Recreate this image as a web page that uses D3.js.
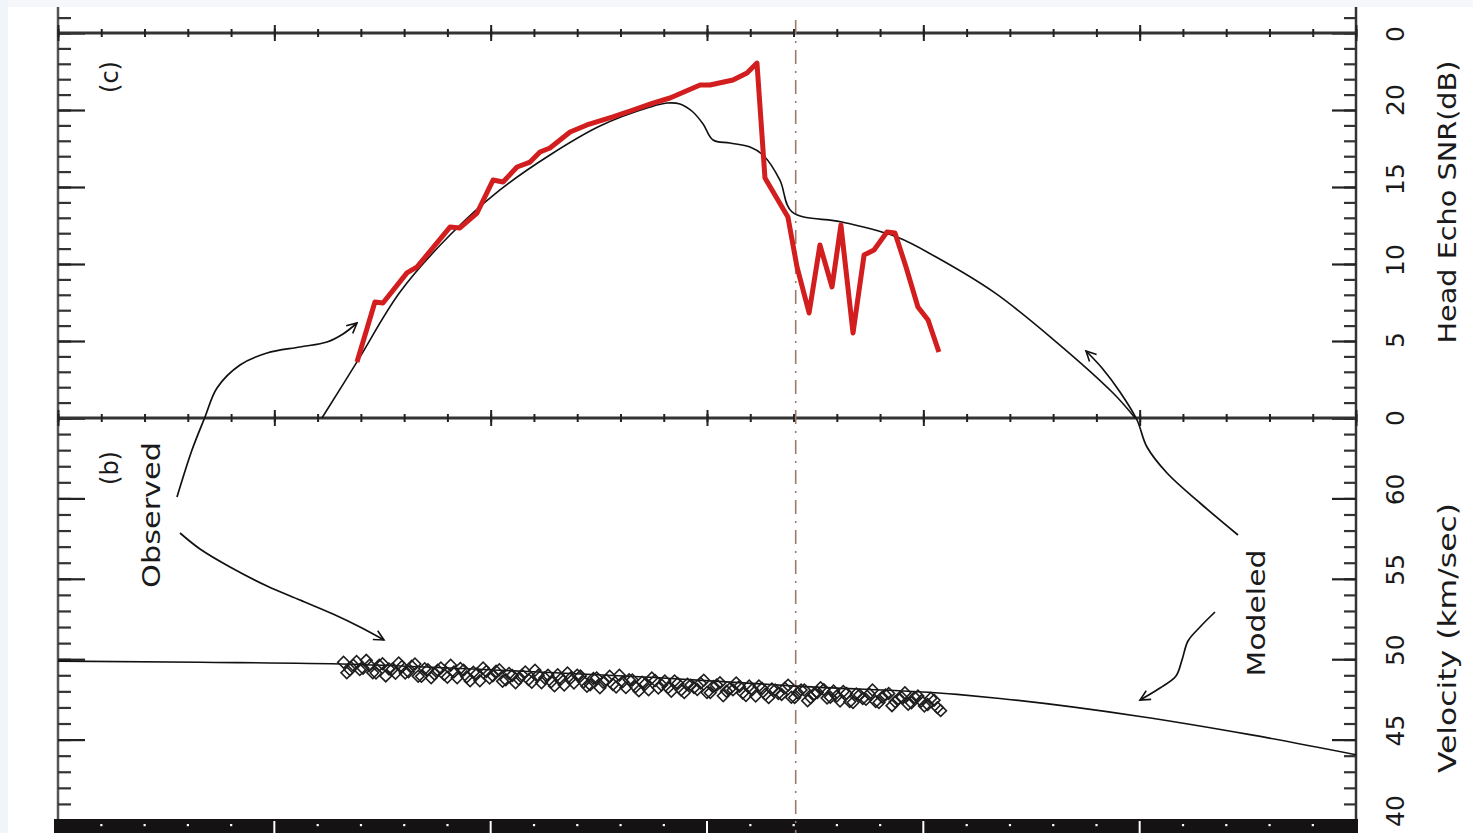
<!DOCTYPE html>
<html><head><meta charset="utf-8">
<script src="https://cdn.jsdelivr.net/npm/d3@7"></script>
<style>
body{margin:0;background:#fff}
svg{display:block}
text{font-family:"DejaVu Sans","Noto Sans",sans-serif;fill:#1a1a1a}
</style>
</head><body>
<svg id="chart" width="1473" height="833"></svg>
<script>
// ---------------- DATA ----------------
// shared (unlabelled) horizontal axis, in major-tick units
const xMajorTicks = [0, 1, 2, 3, 4, 5, 6];

// panel (c): Head Echo SNR (dB)
const snrTicks = [0, 5, 10, 15, 20, 25];
const snrTickLabels = ["0", "5", "10", "15", "20", "0"];

const modelSnrT = [1.22, 1.382, 1.581, 1.812, 2.043, 2.274, 2.505, 2.737, 2.815, 2.875, 2.935, 2.982, 3.028, 3.106, 3.199, 3.259, 3.337, 3.393, 3.624, 3.878, 4.059, 4.331, 4.604, 4.877, 4.979];
const modelSnr  = [0, 3.64, 8.18, 11.88, 14.81, 17.08, 18.96, 20.19, 20.45, 20.39, 19.87, 19.09, 18.05, 17.86, 17.60, 17.08, 15.45, 13.38, 12.73, 11.75, 10.45, 8.12, 5.06, 1.62, 0];

const obsSnrT = [1.382, 1.465, 1.502, 1.613, 1.660, 1.812, 1.858, 1.937, 2.011, 2.057, 2.122, 2.182, 2.228, 2.274, 2.367, 2.445, 2.565, 2.658, 2.750, 2.829, 2.968, 3.014, 3.120, 3.185, 3.231, 3.268, 3.374, 3.416, 3.472, 3.522, 3.578, 3.619, 3.675, 3.726, 3.772, 3.832, 3.869, 3.920, 3.975, 4.022, 4.072];
const obsSnr  = [3.64, 7.53, 7.47, 9.42, 9.81, 12.40, 12.34, 13.31, 15.45, 15.32, 16.30, 16.62, 17.27, 17.53, 18.57, 19.03, 19.55, 20.00, 20.45, 20.78, 21.62, 21.62, 21.95, 22.40, 23.05, 15.58, 13.05, 9.81, 6.82, 11.23, 8.51, 12.53, 5.52, 10.58, 10.91, 12.08, 12.01, 9.81, 7.21, 6.36, 4.29];

// panel (b): Velocity (km/sec)
const velTicks = [40, 45, 50, 55, 60];
const velTickLabels = ["40", "45", "50", "55", "60"];

const modelVelT = [0, 0.656, 1.350, 2.043, 2.737, 3.430, 4.156, 4.354, 5.002, 5.510, 6.0];
const modelVel  = [49.88, 49.81, 49.69, 49.31, 48.88, 48.31, 47.81, 47.56, 46.44, 45.31, 44.06];

const obsVelT = [1.32, 1.35, 1.38, 1.41, 1.44, 1.47, 1.50, 1.53, 1.56, 1.59, 1.62, 1.65, 1.68, 1.71, 1.74, 1.77, 1.80, 1.83, 1.86, 1.89, 1.92, 1.95, 1.98, 2.01, 2.04, 2.07, 2.10, 2.13, 2.16, 2.19, 2.22, 2.25, 2.28, 2.31, 2.34, 2.37, 2.40, 2.43, 2.46, 2.49, 2.52, 2.55, 2.58, 2.61, 2.64, 2.67, 2.70, 2.73, 2.76, 2.79, 2.82, 2.85, 2.88, 2.91, 2.94, 2.97, 3.00, 3.03, 3.06, 3.09, 3.12, 3.15, 3.18, 3.21, 3.24, 3.27, 3.30, 3.33, 3.36, 3.39, 3.42, 3.45, 3.48, 3.51, 3.54, 3.57, 3.60, 3.63, 3.66, 3.69, 3.72, 3.75, 3.78, 3.81, 3.84, 3.87, 3.90, 3.93, 3.96, 3.99, 4.02, 4.05, 4.08];
const obsVel  = [49.81, 49.34, 49.86, 49.44, 49.62, 49.14, 49.72, 49.39, 49.12, 49.55, 49.22, 49.70, 48.93, 49.35, 49.08, 49.45, 48.88, 49.21, 49.43, 48.91, 49.19, 48.66, 49.24, 48.97, 49.34, 48.72, 48.99, 48.77, 49.20, 48.57, 49.00, 48.83, 48.60, 49.03, 48.40, 48.83, 49.01, 48.58, 48.41, 48.84, 48.56, 48.94, 48.27, 48.59, 48.72, 48.29, 48.57, 48.10, 48.67, 48.40, 48.23, 48.65, 48.08, 48.45, 48.23, 48.51, 47.93, 48.31, 48.54, 48.01, 48.09, 48.31, 47.74, 48.12, 48.34, 47.82, 48.15, 47.87, 48.20, 47.63, 47.90, 48.08, 47.60, 47.93, 48.11, 47.63, 47.71, 47.99, 47.36, 47.84, 47.56, 47.84, 47.37, 47.64, 47.87, 47.35, 47.62, 47.20, 47.62, 47.40, 47.18, 47.45, 46.80];

// interleaved second set of observed velocity samples
const obsVel2T = [1.335, 1.365, 1.395, 1.425, 1.455, 1.485, 1.515, 1.545, 1.575, 1.605, 1.635, 1.665, 1.695, 1.725, 1.755, 1.785, 1.815, 1.845, 1.875, 1.905, 1.935, 1.965, 1.995, 2.025, 2.055, 2.085, 2.115, 2.145, 2.175, 2.205, 2.235, 2.265, 2.295, 2.325, 2.355, 2.385, 2.415, 2.445, 2.475, 2.505, 2.535, 2.565, 2.595, 2.625, 2.655, 2.685, 2.715, 2.745, 2.775, 2.805, 2.835, 2.865, 2.895, 2.925, 2.955, 2.985, 3.015, 3.045, 3.075, 3.105, 3.135, 3.165, 3.195, 3.225, 3.255, 3.285, 3.315, 3.345, 3.375, 3.405, 3.435, 3.465, 3.495, 3.525, 3.555, 3.585, 3.615, 3.645, 3.675, 3.705, 3.735, 3.765, 3.795, 3.825, 3.855, 3.885, 3.915, 3.945, 3.975, 4.005, 4.035, 4.065];
const obsVel2  = [49.15, 49.62, 49.35, 49.93, 49.15, 49.63, 48.96, 49.38, 49.76, 49.14, 49.56, 48.94, 49.41, 48.84, 49.32, 49.04, 49.62, 48.85, 49.32, 48.65, 49.07, 49.45, 48.83, 49.25, 48.63, 49.11, 48.53, 49.01, 48.73, 49.31, 48.54, 49.01, 48.34, 48.77, 49.14, 48.52, 48.95, 48.32, 48.80, 48.22, 48.70, 48.43, 49.00, 48.23, 48.71, 48.03, 48.46, 48.83, 48.21, 48.64, 48.01, 48.49, 47.92, 48.39, 48.12, 48.69, 47.92, 48.40, 47.72, 48.15, 48.53, 47.90, 48.33, 47.71, 48.18, 47.61, 48.08, 47.81, 48.39, 47.61, 48.09, 47.42, 47.84, 48.22, 47.59, 48.02, 47.40, 47.87, 47.30, 47.78, 47.50, 48.08, 47.31, 47.78, 47.11, 47.53, 47.91, 47.29, 47.71, 47.09, 47.57, 46.99];

const markerT = 3.41; // dash-dot reference line

// ---------------- DRAW ----------------
const svg = d3.select("#chart");
const X0 = 58, X1 = 1356;
const x = d3.scaleLinear().domain([0, 6]).range([X0, X1]);
const ySnr = d3.scaleLinear().domain([0, 25]).range([418, 33]);
const yVel = d3.scaleLinear().domain([40, 65]).range([820, 418]);

// background strips (scan border)
svg.append("rect").attr("x", 0).attr("y", 0).attr("width", 1473).attr("height", 833).attr("fill", "#fff");
svg.append("rect").attr("x", 0).attr("y", 0).attr("width", 1473).attr("height", 7).attr("fill", "#f6f7fb");
svg.append("rect").attr("x", 0).attr("y", 0).attr("width", 8).attr("height", 833).attr("fill", "#eff5f8");

// defs: arrow
const defs = svg.append("defs");
defs.append("marker").attr("id", "arr").attr("markerUnits", "userSpaceOnUse")
  .attr("viewBox", "-12 -7 14 14").attr("refX", 0).attr("refY", 0)
  .attr("markerWidth", 14).attr("markerHeight", 14).attr("orient", "auto")
  .append("path").attr("d", "M-10,-5 L0,0 L-10,5").attr("fill", "none")
  .attr("stroke", "#111").attr("stroke-width", 1.6);

// vertical axes lines (extend to the cropped edges)
svg.append("line").attr("x1", X0).attr("x2", X0).attr("y1", 7).attr("y2", 833).attr("stroke", "#555").attr("stroke-width", 2.5);
svg.append("line").attr("x1", X1).attr("x2", X1).attr("y1", 7).attr("y2", 833).attr("stroke", "#333").attr("stroke-width", 2.5);

const snrMinor = d3.range(0, 27, 1), velMinor = d3.range(40, 66, 1);
function vTicks(gx, scale, vals, dir, len, color) {
  const ax = (dir > 0 ? d3.axisRight(scale) : d3.axisLeft(scale)).tickValues(vals).tickSize(len).tickFormat("");
  const g = svg.append("g").attr("transform", `translate(${gx},0)`).call(ax);
  g.select(".domain").remove();
  g.selectAll(".tick line").attr("stroke", color).attr("stroke-width", 2.2);
}
vTicks(X0, ySnr, snrMinor, 1, 13, "#333");
vTicks(X0, ySnr, snrTicks, 1, 27, "#222");
vTicks(X0, yVel, velMinor, 1, 13, "#333");
vTicks(X0, yVel, velTicks.concat([65]), 1, 27, "#222");
vTicks(X1, ySnr, snrMinor, -1, 12, "#333");
vTicks(X1, ySnr, snrTicks, -1, 24, "#222");
vTicks(X1, yVel, velMinor, -1, 12, "#333");
vTicks(X1, yVel, velTicks.concat([65]), -1, 24, "#222");

// horizontal frame lines with ticks
const xMinor = x.ticks(24);
function hLine(yy) {
  svg.append("line").attr("x1", X0).attr("x2", X1).attr("y1", yy).attr("y2", yy).attr("stroke", "#333").attr("stroke-width", 3);
  const gMin = svg.append("g").attr("transform", `translate(0,${yy - 4})`).call(d3.axisBottom(x).tickValues(xMinor).tickSize(8).tickFormat(""));
  gMin.select(".domain").remove();
  gMin.selectAll(".tick line").attr("stroke", "#222").attr("stroke-width", 2);
  const gMaj = svg.append("g").attr("transform", `translate(0,${yy - 8})`).call(d3.axisBottom(x).tickValues(xMajorTicks).tickSize(16).tickFormat(""));
  gMaj.select(".domain").remove();
  gMaj.selectAll(".tick line").attr("stroke", "#222").attr("stroke-width", 2);
}
hLine(ySnr(25));
hLine(ySnr(0));

// bottom black band (thick bottom axis) with white ticks
svg.append("rect").attr("x", X0 - 4).attr("y", 819).attr("width", X1 - X0 + 6).attr("height", 14).attr("fill", "#141212");
svg.append("g").selectAll("rect").data(xMinor.filter(v => !xMajorTicks.includes(v))).join("rect")
  .attr("x", d => x(d) - 1).attr("y", 824).attr("width", 2.2).attr("height", 2.2).attr("fill", "#fff");
svg.append("g").selectAll("line").data(xMajorTicks.slice(1, -1)).join("line")
  .attr("x1", d => x(d)).attr("x2", d => x(d)).attr("y1", 821).attr("y2", 833)
  .attr("stroke", "#fff").attr("stroke-width", 2);

// dash-dot reference line
svg.append("line").attr("x1", x(markerT)).attr("x2", x(markerT)).attr("y1", 20).attr("y2", 833)
  .attr("stroke", "#9c7a68").attr("stroke-width", 1.6).attr("stroke-dasharray", "14,7,2,7");

// ---- panel c: SNR ----
const lineSnrModel = d3.line().curve(d3.curveCatmullRom.alpha(0.5)).x(d => x(d[0])).y(d => ySnr(d[1]));
const lineSnr = d3.line().x(d => x(d[0])).y(d => ySnr(d[1]));
svg.append("path").datum(d3.zip(modelSnrT, modelSnr)).attr("d", lineSnrModel)
  .attr("fill", "none").attr("stroke", "#111").attr("stroke-width", 1.6);
svg.append("path").datum(d3.zip(obsSnrT, obsSnr)).attr("d", lineSnr)
  .attr("fill", "none").attr("stroke", "#d21e1e").attr("stroke-width", 5).attr("stroke-linejoin", "round");

// ---- panel b: velocity ----
const lineVel = d3.line().curve(d3.curveMonotoneX).x(d => x(d[0])).y(d => yVel(d[1]));
svg.append("path").datum(d3.zip(modelVelT, modelVel)).attr("d", lineVel)
  .attr("fill", "none").attr("stroke", "#111").attr("stroke-width", 1.6);
const sym = d3.symbol(d3.symbolSquare, 68);
const obsPts = d3.zip(obsVelT, obsVel).concat(d3.zip(obsVel2T, obsVel2)).sort((a, b) => a[0] - b[0]);
svg.append("g").selectAll("path").data(obsPts).join("path")
  .attr("d", sym)
  .attr("transform", d => `translate(${x(d[0])},${yVel(d[1])}) rotate(45)`)
  .attr("fill", "none").attr("stroke", "#1e1e1e").attr("stroke-width", 1.6);

// ---- annotations ----
const curve = d3.line().curve(d3.curveCatmullRom.alpha(0.5));
const arrows = [
  [[177, 497], [192, 450], [205, 417], [217, 388], [240, 365], [267, 353], [300, 347], [327, 342], [343, 334], [357, 323]],
  [[180, 533], [200, 549], [230, 567], [267, 586], [300, 600], [333, 614], [360, 627], [384, 640]],
  [[1238, 535], [1200, 503], [1167, 473], [1147, 447], [1137, 420], [1120, 392], [1102, 368], [1086, 351]],
  [[1215, 612], [1200, 627], [1188, 641], [1182, 660], [1176, 676], [1160, 688], [1140, 700]]
];
svg.append("g").selectAll("path").data(arrows).join("path")
  .attr("d", d => curve(d)).attr("fill", "none").attr("stroke", "#111").attr("stroke-width", 1.7)
  .attr("marker-end", "url(#arr)");

// ---- rotated texts ----
function rtext(cx, cy, str, size, len) {
  const t = svg.append("text").attr("transform", `translate(${cx},${cy}) rotate(-90)`)
    .attr("text-anchor", "middle").attr("dominant-baseline", "central")
    .attr("font-size", size).text(str);
  if (len) t.attr("textLength", len).attr("lengthAdjust", "spacingAndGlyphs");
  return t;
}
const snrLabelShift = [0, -1, -4, -8, -10, 1];
snrTicks.forEach((v, i) => rtext(1395, ySnr(v) + snrLabelShift[i], snrTickLabels[i], 25));
velTicks.forEach((v, i) => rtext(1395, yVel(v) - 9, velTickLabels[i], 25));
rtext(1447, 202, "Head Echo SNR(dB)", 25, 283);
rtext(1447, 638, "Velocity (km/sec)", 25, 270);
rtext(110, 77, "(c)", 24);
rtext(110, 468, "(b)", 24);
rtext(151, 515, "Observed", 25, 146);
rtext(1256, 613, "Modeled", 25, 127);
</script>
</body></html>
